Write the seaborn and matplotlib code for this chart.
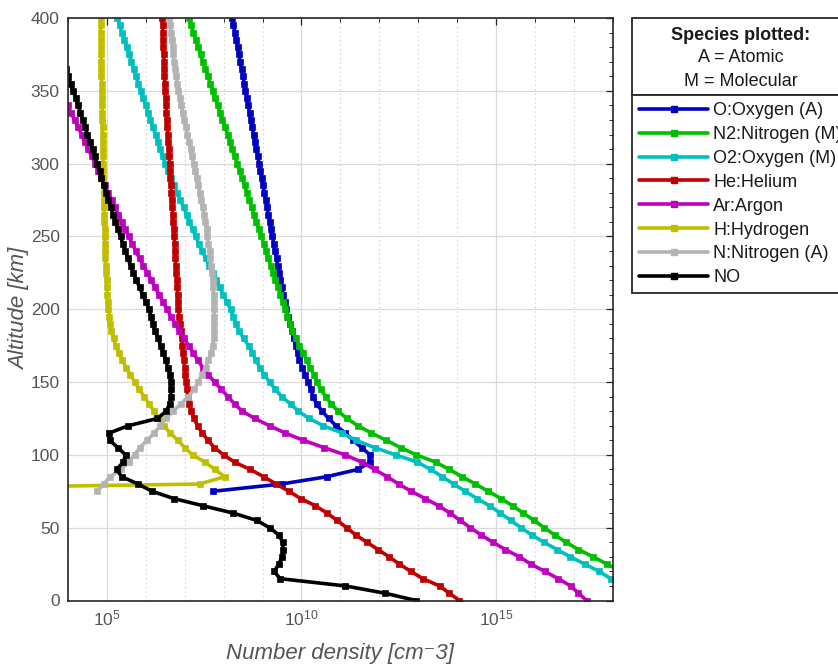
import numpy as np
import matplotlib
matplotlib.use("Agg")
import matplotlib.pyplot as plt
from matplotlib.lines import Line2D
from matplotlib.patches import Rectangle
from matplotlib.ticker import FixedLocator, FuncFormatter, MultipleLocator, NullFormatter
import seaborn as sns

nan = float("nan")

# altitude grid of the model run (km)
altitude_km = list(range(0, 405, 5))

# log10 of number density [cm^-3], one value per altitude, rows of 50 km
log_o = [nan, nan, nan, nan, nan, nan, nan, nan, nan, nan,
         nan, nan, nan, nan, nan, 7.73, 9.49, 10.65, 11.45, 11.77,
         11.76, 11.55, 11.33, 11.13, 10.89, 10.70, 10.53, 10.39, 10.30, 10.24,
         10.17, 10.09, 10.02, 9.95, 9.90, 9.85, 9.80, 9.75, 9.70, 9.65,
         9.60, 9.57, 9.53, 9.50, 9.46, 9.43, 9.39, 9.36, 9.32, 9.29,
         9.25, 9.22, 9.19, 9.15, 9.12, 9.08, 9.05, 9.01, 8.98, 8.94,
         8.91, 8.88, 8.84, 8.81, 8.77, 8.74, 8.70, 8.67, 8.63, 8.60,
         8.56, 8.53, 8.50, 8.46, 8.43, 8.39, 8.36, 8.32, 8.29, 8.25,
         8.22]
log_n2 = [19.29, 19.05, 18.79, 18.52, 18.22, 17.85, 17.50, 17.12, 16.80, 16.51,
          16.24, 15.98, 15.70, 15.43, 15.13, 14.80, 14.47, 14.13, 13.80, 13.45,
          12.95, 12.55, 12.18, 11.80, 11.45, 11.17, 10.94, 10.77, 10.62, 10.50,
          10.40, 10.32, 10.22, 10.13, 10.05, 9.95, 9.86, 9.77, 9.70, 9.64,
          9.58, 9.52, 9.46, 9.40, 9.33, 9.27, 9.21, 9.15, 9.09, 9.03,
          8.97, 8.91, 8.84, 8.78, 8.72, 8.66, 8.60, 8.54, 8.47, 8.41,
          8.35, 8.29, 8.22, 8.16, 8.10, 8.04, 7.97, 7.91, 7.85, 7.78,
          7.72, 7.66, 7.60, 7.53, 7.47, 7.41, 7.35, 7.29, 7.22, 7.16,
          7.10]
log_o2 = [18.72, 18.48, 18.22, 17.95, 17.65, 17.28, 16.91, 16.57, 16.23, 15.92,
          15.64, 15.38, 15.11, 14.84, 14.51, 14.21, 13.91, 13.62, 13.32, 12.98,
          12.42, 11.88, 11.40, 11.05, 10.56, 10.20, 9.92, 9.72, 9.49, 9.33,
          9.18, 9.05, 8.93, 8.83, 8.74, 8.64, 8.52, 8.40, 8.32, 8.25,
          8.18, 8.08, 7.99, 7.90, 7.81, 7.72, 7.63, 7.54, 7.45, 7.36,
          7.28, 7.20, 7.12, 7.05, 6.97, 6.89, 6.81, 6.73, 6.66, 6.58,
          6.50, 6.44, 6.37, 6.31, 6.25, 6.18, 6.12, 6.06, 6.00, 5.93,
          5.87, 5.81, 5.75, 5.69, 5.63, 5.57, 5.51, 5.45, 5.39, 5.33,
          5.27]
log_he = [14.06, 13.80, 13.55, 13.12, 12.81, 12.52, 12.25, 11.97, 11.68, 11.40,
          11.16, 10.92, 10.66, 10.36, 9.98, 9.68, 9.35, 9.03, 8.68, 8.28,
          8.00, 7.76, 7.60, 7.45, 7.33, 7.24, 7.17, 7.12, 7.08, 7.06,
          7.04, 7.02, 7.00, 6.98, 6.96, 6.94, 6.92, 6.90, 6.88, 6.86,
          6.84, 6.83, 6.82, 6.81, 6.80, 6.78, 6.77, 6.76, 6.75, 6.74,
          6.73, 6.72, 6.70, 6.69, 6.68, 6.67, 6.66, 6.64, 6.63, 6.62,
          6.61, 6.60, 6.59, 6.58, 6.57, 6.55, 6.54, 6.53, 6.52, 6.51,
          6.50, 6.49, 6.48, 6.48, 6.47, 6.46, 6.45, 6.44, 6.44, 6.43,
          6.42]
log_ar = [17.33, 17.12, 16.92, 16.60, 16.25, 15.90, 15.60, 15.24, 14.92, 14.62,
          14.34, 14.08, 13.82, 13.53, 13.18, 12.82, 12.50, 12.20, 11.88, 11.55,
          11.12, 10.58, 10.05, 9.58, 9.18, 8.80, 8.48, 8.28, 8.11, 7.94,
          7.77, 7.60, 7.46, 7.34, 7.22, 7.10, 6.98, 6.86, 6.76, 6.65,
          6.55, 6.44, 6.34, 6.24, 6.14, 6.04, 5.94, 5.84, 5.74, 5.65,
          5.56, 5.47, 5.38, 5.29, 5.20, 5.12, 5.03, 4.94, 4.86, 4.78,
          4.70, 4.61, 4.52, 4.43, 4.35, 4.26, 4.17, 4.08, 3.99, 3.90,
          3.81, 3.72, 3.64, 3.55, 3.46, 3.37, 3.28, 3.19, 3.11, 3.02,
          2.93]
log_h = [nan, nan, nan, nan, nan, nan, nan, nan, nan, nan,
         nan, nan, nan, nan, nan, -4.80, 7.38, 8.03, 7.78, 7.52,
         7.20, 7.00, 6.82, 6.63, 6.46, 6.33, 6.22, 6.08, 5.96, 5.83,
         5.72, 5.60, 5.49, 5.40, 5.31, 5.23, 5.17, 5.11, 5.08, 5.06,
         5.04, 5.02, 5.01, 5.00, 4.99, 4.98, 4.97, 4.96, 4.95, 4.95,
         4.94, 4.94, 4.93, 4.93, 4.93, 4.92, 4.92, 4.92, 4.91, 4.91,
         4.91, 4.90, 4.90, 4.89, 4.89, 4.89, 4.88, 4.88, 4.88, 4.87,
         4.87, 4.87, 4.86, 4.86, 4.86, 4.85, 4.85, 4.85, 4.84, 4.84,
         4.84]
log_n = [nan, nan, nan, nan, nan, nan, nan, nan, nan, nan,
         nan, nan, nan, nan, nan, 4.75, 4.92, 5.08, 5.36, 5.56,
         5.71, 5.85, 6.03, 6.22, 6.37, 6.52, 6.70, 6.90, 7.09, 7.24,
         7.35, 7.44, 7.54, 7.61, 7.67, 7.72, 7.75, 7.76, 7.76, 7.76,
         7.75, 7.75, 7.74, 7.73, 7.72, 7.70, 7.68, 7.66, 7.64, 7.61,
         7.58, 7.56, 7.53, 7.50, 7.46, 7.43, 7.39, 7.35, 7.31, 7.27,
         7.23, 7.19, 7.15, 7.11, 7.07, 7.03, 6.99, 6.95, 6.91, 6.87,
         6.84, 6.81, 6.78, 6.76, 6.73, 6.71, 6.69, 6.67, 6.65, 6.63,
         6.60]
log_no = [12.94, 12.15, 11.13, 9.45, 9.30, 9.42, 9.50, 9.53, 9.52, 9.42,
          9.18, 8.85, 8.25, 7.48, 6.72, 6.16, 5.80, 5.38, 5.25, 5.42,
          5.48, 5.28, 5.07, 5.06, 5.55, 6.30, 6.52, 6.62, 6.64, 6.65,
          6.65, 6.62, 6.57, 6.51, 6.45, 6.38, 6.32, 6.24, 6.18, 6.13,
          6.08, 6.00, 5.92, 5.84, 5.76, 5.68, 5.61, 5.54, 5.47, 5.41,
          5.35, 5.28, 5.22, 5.16, 5.10, 5.04, 4.98, 4.92, 4.86, 4.81,
          4.75, 4.69, 4.63, 4.57, 4.50, 4.44, 4.38, 4.32, 4.26, 4.20,
          4.13, 4.07, 4.01, 3.95, 3.89, 3.83, 3.77, 3.70, 3.64, 3.58,
          3.52]

species_labels = ["O:Oxygen (A)", "N2:Nitrogen (M)", "O2:Oxygen (M)", "He:Helium",
                  "Ar:Argon", "H:Hydrogen", "N:Nitrogen (A)", "NO"]
species_logs = [log_o, log_n2, log_o2, log_he, log_ar, log_h, log_n, log_no]
species_colors = ["#0000BF", "#00BF00", "#00BFBF", "#BF0000",
                  "#BF00BF", "#BFBF00", "#B3B3B3", "#000000"]

header_lines = ["Species plotted:", "A = Atomic", "M = Molecular"]


def decade_label(value, pos):  # 10^n tick labels
    return r"$10^{%d}$" % int(round(np.log10(value)))


def main():
    sns.set_theme(style="whitegrid")
    plt.rcParams["font.family"] = ["Liberation Sans", "DejaVu Sans"]
    plt.rcParams["mathtext.fontset"] = "custom"
    plt.rcParams["mathtext.rm"] = "Liberation Sans"
    plt.rcParams["mathtext.it"] = "Liberation Sans:italic"

    W, H = 838, 665
    fig = plt.figure(figsize=(W / 100, H / 100), dpi=100, facecolor="white")
    ax = fig.add_axes([68 / W, (H - 600.5) / H, (612.7 - 68) / W, (600.5 - 18) / H])
    ax.set_facecolor("white")
    ax.set_xscale("log")

    alt = np.array(altitude_km, dtype=float)
    handles = []
    for label, logs, color in zip(species_labels, species_logs, species_colors):
        logs = np.array(logs, dtype=float)
        ok = ~np.isnan(logs)
        sns.lineplot(x=10.0 ** logs[ok], y=alt[ok], sort=False, estimator=None,
                     color=color, linewidth=2.6, marker="s", markersize=4.6,
                     markeredgecolor=color, markeredgewidth=0.5, ax=ax, legend=False)
        handles.append(Line2D([], [], color=color, linewidth=2.6, marker="s",
                              markersize=4.6, markeredgecolor=color))

    ax.set_xlim(1e4, 1e18)
    ax.set_ylim(0, 400)
    ax.xaxis.set_major_locator(FixedLocator([1e5, 1e10, 1e15]))
    ax.xaxis.set_major_formatter(FuncFormatter(decade_label))
    ax.xaxis.set_minor_locator(FixedLocator([10.0 ** k for k in range(4, 19)]))
    ax.xaxis.set_minor_formatter(NullFormatter())
    ax.yaxis.set_major_locator(MultipleLocator(50))
    ax.yaxis.set_minor_locator(MultipleLocator(10))

    ax.grid(which="major", color="#dadada", linewidth=0.9, linestyle="-")
    ax.grid(which="minor", axis="x", color="#c4c4c4", linewidth=0.8, linestyle=(0, (1, 3)))
    ax.grid(which="minor", axis="y", visible=False)
    ax.set_axisbelow(True)

    for spine in ax.spines.values():
        spine.set_color("#262626")
        spine.set_linewidth(1.2)
    ax.tick_params(which="both", direction="in", top=True, right=True,
                   color="#262626", labelcolor="#555555", labelsize=12.5)
    ax.tick_params(which="major", length=5, width=0.9, pad=6)
    ax.tick_params(which="minor", length=3, width=0.7)

    ax.set_xlabel("Number density [cm\u207b3]", fontsize=16, style="italic",
                  color="#555555", labelpad=10)
    ax.set_ylabel("Altitude [km]", fontsize=16, style="italic", color="#555555", labelpad=0)

    leg = fig.legend(handles, species_labels, loc="upper left",
                     bbox_to_anchor=(632 / W, 1 - 95 / H), frameon=True, fancybox=False,
                     edgecolor="#262626", framealpha=1, borderaxespad=0, borderpad=0.4,
                     handlelength=3.8, handletextpad=0.3, labelspacing=0.38,
                     fontsize=13, numpoints=1)
    leg.get_frame().set_linewidth(1.3)
    for txt in leg.get_texts():
        txt.set_color("#1a1a1a")

    # header box above the legend entries
    fig.canvas.draw()
    bb = leg.get_window_extent()
    x0, width = bb.x0, max(bb.width, 214)
    top = H - 18
    fig.add_artist(Rectangle((x0 / W, bb.y1 / H), width / W, (top - bb.y1) / H,
                             transform=fig.transFigure, facecolor="white",
                             edgecolor="#262626", linewidth=1.3))
    cx = (x0 + width / 2) / W
    for i, line in enumerate(header_lines):
        fig.text(cx, 1 - (35 + 23 * i) / H, line, ha="center", va="center", fontsize=13,
                 fontweight="bold" if i == 0 else "normal", color="#1a1a1a")

    fig.savefig("out.png", dpi=100, facecolor="white")


if __name__ == "__main__":
    main()
